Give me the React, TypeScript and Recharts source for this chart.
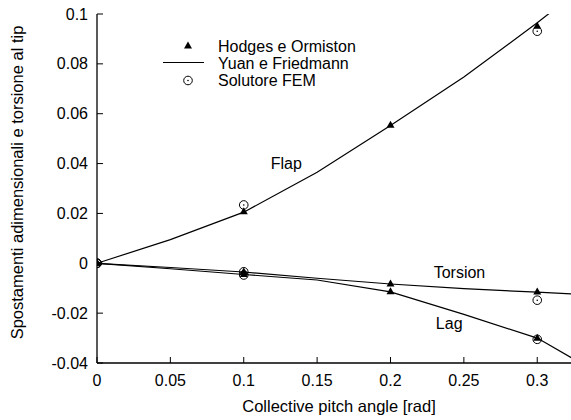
import React from 'react';
import { ComposedChart, Line, Scatter, XAxis, YAxis, ReferenceDot, Legend } from 'recharts';

const pitchLine = [0, 0.05, 0.1, 0.15, 0.2, 0.25, 0.3, 0.325];
const flapYF = [0, 0.0095, 0.0205, 0.0365, 0.0553, 0.0747, 0.0965, 0.108];
const torsionYF = [0, -0.0017, -0.0035, -0.006, -0.0083, -0.0102, -0.0116, -0.0123];
const lagYF = [0, -0.0022, -0.0045, -0.0067, -0.0115, -0.0205, -0.03, -0.0385];

const pitchHodges = [0, 0.1, 0.2, 0.3];
const flapHodges = [0, 0.0207, 0.0554, 0.0951];
const torsionHodges = [0, -0.0035, -0.0083, -0.0115];
const lagHodges = [0, -0.0045, -0.0114, -0.0301];

const pitchFEM = [0, 0.1, 0.3];
const flapFEM = [0, 0.0234, 0.0931];
const torsionFEM = [0, -0.0034, -0.0148];
const lagFEM = [0, -0.0047, -0.0305];

const xTicks = [0, 0.05, 0.1, 0.15, 0.2, 0.25, 0.3];
const yTicks = [-0.04, -0.02, 0, 0.02, 0.04, 0.06, 0.08, 0.1];

const legendLabels = ['Hodges e Ormiston', 'Yuan e Friedmann', 'Solutore FEM'];
const curveLabels = [
  { text: 'Flap', x: 0.129, y: 0.0402 },
  { text: 'Torsion', x: 0.247, y: -0.0035 },
  { text: 'Lag', x: 0.24, y: -0.0242 },
];

const zip = (xs: number[], ys: number[]) => xs.map((x, i) => ({ x, y: ys[i] }));

const FONT = '"Liberation Sans", Arial, Helvetica, sans-serif';
const FS = 16;

const Triangle = (props: any) => {
  const { cx, cy } = props;
  if (cx == null || cy == null) return null;
  return <polygon points={`${cx},${cy - 4.5} ${cx - 4},${cy + 2.5} ${cx + 4},${cy + 2.5}`} fill="#000" />;
};

const CircleDot = (props: any) => {
  const { cx, cy } = props;
  if (cx == null || cy == null) return null;
  return (
    <g>
      <circle cx={cx} cy={cy} r={4.3} fill="none" stroke="#000" strokeWidth={1} />
      <circle cx={cx} cy={cy} r={0.8} fill="#000" />
    </g>
  );
};

const XTick = (props: any) => {
  const { x, y, payload } = props;
  return (
    <g>
      <line x1={x} y1={y} x2={x} y2={y - 6} stroke="#000" strokeWidth={1} />
      <text x={x} y={y + 17} textAnchor="middle" dy="0.35em" fontFamily={FONT} fontSize={FS} fill="#000">
        {String(payload.value)}
      </text>
    </g>
  );
};

const TopTick = (props: any) => {
  const { x, y } = props;
  return <line x1={x} y1={y} x2={x} y2={y + 6} stroke="#000" strokeWidth={1} />;
};

const YTick = (props: any) => {
  const { x, y, payload } = props;
  return (
    <g>
      <line x1={x} y1={y} x2={x + 6} y2={y} stroke="#000" strokeWidth={1} />
      <text x={x - 9} y={y} textAnchor="end" dy="0.35em" fontFamily={FONT} fontSize={FS} fill="#000">
        {String(payload.value)}
      </text>
    </g>
  );
};

const LegendContent = () => (
  <svg width={220} height={64} style={{ display: 'block' }}>
    <polygon points="38,11.5 34,18.5 42,18.5" fill="#000" />
    <line x1={13} y1={32.5} x2={54} y2={32.5} stroke="#000" strokeWidth={1.2} />
    <circle cx={38} cy={50.5} r={4.3} fill="none" stroke="#000" strokeWidth={1} />
    <circle cx={38} cy={50.5} r={0.8} fill="#000" />
    {legendLabels.map((l, i) => (
      <text key={l} x={68} y={16.5 + i * 16.7} dy="0.35em" fontFamily={FONT} fontSize={FS} fill="#000">
        {l}
      </text>
    ))}
  </svg>
);

export default function App() {
  return (
    <div style={{ position: 'absolute', left: 0, top: 0, width: 571, height: 420, background: '#fff' }}>
      <ComposedChart width={571} height={420} margin={{ top: 14, right: 0, bottom: 0, left: 0 }}>
        <XAxis
          xAxisId="b"
          dataKey="x"
          type="number"
          domain={[0, 0.323]}
          allowDataOverflow
          ticks={xTicks}
          tick={<XTick />}
          tickLine={false}
          tickSize={0}
          tickMargin={0}
          height={57}
          axisLine={{ stroke: '#000', strokeWidth: 1.3 }}
          interval={0}
          label={{
            content: () => (
              <text x={339} y={406} textAnchor="middle" dy="0.35em" fontFamily={FONT} fontSize={16.5} fill="#000">
                Collective pitch angle [rad]
              </text>
            ),
          }}
        />
        <XAxis
          xAxisId="t"
          orientation="top"
          dataKey="x"
          type="number"
          domain={[0, 0.323]}
          allowDataOverflow
          ticks={xTicks}
          tick={<TopTick />}
          tickLine={false}
          tickSize={0}
          tickMargin={0}
          height={0}
          axisLine={{ stroke: '#000', strokeWidth: 1.3 }}
          interval={0}
        />
        <YAxis
          yAxisId="l"
          type="number"
          domain={[-0.04, 0.1]}
          allowDataOverflow
          ticks={yTicks}
          tick={<YTick />}
          tickLine={false}
          tickSize={0}
          tickMargin={0}
          width={97}
          axisLine={{ stroke: '#000', strokeWidth: 1.3 }}
          interval={0}
          label={{
            content: () => (
              <text
                x={17.5}
                y={182.5}
                transform="rotate(-90 17.5 182.5)"
                textAnchor="middle"
                dy="0.35em"
                fontFamily={FONT}
                fontSize={16.5}
                fill="#000"
              >
                Spostamenti adimensionali e torsione al tip
              </text>
            ),
          }}
        />
        <Legend
          verticalAlign="middle"
          align="center"
          layout="horizontal"
          content={<LegendContent />}
          wrapperStyle={{ position: 'absolute', left: 150, top: 30, width: 220, height: 64 }}
        />
        <Line xAxisId="b" yAxisId="l" data={zip(pitchLine, flapYF)} dataKey="y" type="linear" stroke="#000" strokeWidth={1.2} dot={false} isAnimationActive={false} />
        <Line xAxisId="b" yAxisId="l" data={zip(pitchLine, torsionYF)} dataKey="y" type="linear" stroke="#000" strokeWidth={1.2} dot={false} isAnimationActive={false} />
        <Line xAxisId="b" yAxisId="l" data={zip(pitchLine, lagYF)} dataKey="y" type="linear" stroke="#000" strokeWidth={1.2} dot={false} isAnimationActive={false} />
        <Scatter xAxisId="b" yAxisId="l" data={zip(pitchHodges, flapHodges)} dataKey="y" shape={<Triangle />} isAnimationActive={false} />
        <Scatter xAxisId="b" yAxisId="l" data={zip(pitchHodges, torsionHodges)} dataKey="y" shape={<Triangle />} isAnimationActive={false} />
        <Scatter xAxisId="b" yAxisId="l" data={zip(pitchHodges, lagHodges)} dataKey="y" shape={<Triangle />} isAnimationActive={false} />
        <Scatter xAxisId="b" yAxisId="l" data={zip(pitchFEM, flapFEM)} dataKey="y" shape={<CircleDot />} isAnimationActive={false} />
        <Scatter xAxisId="b" yAxisId="l" data={zip(pitchFEM, torsionFEM)} dataKey="y" shape={<CircleDot />} isAnimationActive={false} />
        <Scatter xAxisId="b" yAxisId="l" data={zip(pitchFEM, lagFEM)} dataKey="y" shape={<CircleDot />} isAnimationActive={false} />
        {curveLabels.map((c) => (
          <ReferenceDot
            key={c.text}
            xAxisId="b"
            yAxisId="l"
            x={c.x}
            y={c.y}
            r={0}
            fill="none"
            stroke="none"
            label={{ value: c.text, position: 'center', fontFamily: FONT, fontSize: FS, fill: '#000' }}
          />
        ))}
      </ComposedChart>
    </div>
  );
}
